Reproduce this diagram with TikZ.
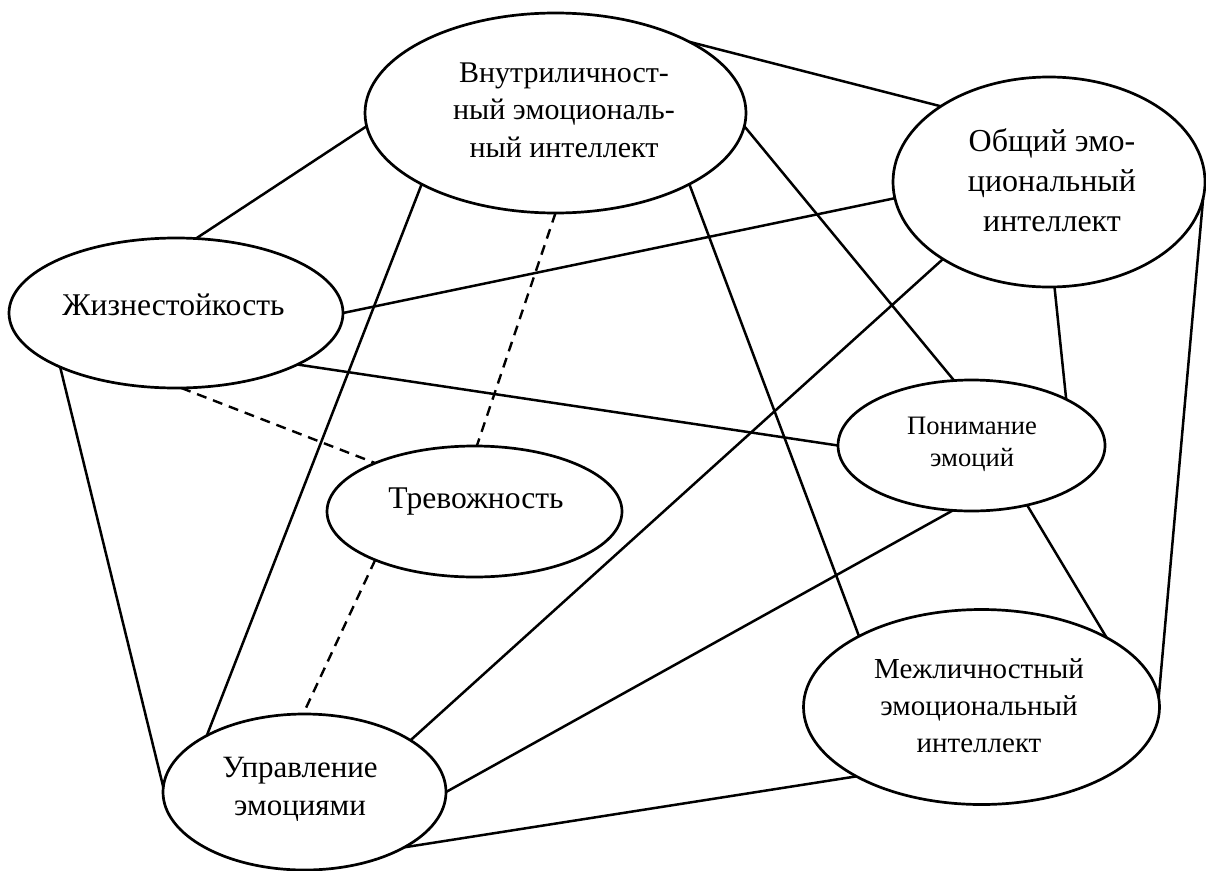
\documentclass[tikz,border=0pt]{standalone}
\usepackage{fontspec}
\setmainfont{Liberation Serif}
\usetikzlibrary{shapes.geometric}
\begin{document}
\begin{tikzpicture}[x=1pt,y=-1pt,
  ell/.style={draw, ellipse, line width=2.7pt, inner sep=0pt, outer sep=0pt},
  lbl/.style={align=center, inner sep=0pt},
  link/.style={line width=2.5pt},
  dlink/.style={line width=2.4pt, dash pattern=on 10pt off 7pt}]
\useasboundingbox[fill=white] (0,0) rectangle (1206,870);
% ellipses
\node[ell, minimum width=381pt, minimum height=200pt] (vn) at (555.5,113) {};
\node[ell, minimum width=312pt, minimum height=210pt] (ob) at (1049,182) {};
\node[ell, minimum width=334pt, minimum height=150pt] (zh) at (176,313) {};
\node[ell, minimum width=267pt, minimum height=131pt] (po) at (971.5,445.5) {};
\node[ell, minimum width=295pt, minimum height=131pt] (tr) at (474.5,511.5) {};
\node[ell, minimum width=356pt, minimum height=195pt] (me) at (981.5,707) {};
\node[ell, minimum width=283pt, minimum height=156pt] (up) at (304.5,792) {};
% labels
\node[lbl, font=\fontsize{30}{37.5}\selectfont] (vnT) at (564,110) {Внутриличност-\\ный эмоциональ-\\ный интеллект};
\node[lbl, font=\fontsize{32}{40}\selectfont] (obT) at (1052,180) {Общий эмо-\\циональный\\интеллект};
\node[lbl, font=\fontsize{31.6}{38}\selectfont] (zhT) at (173.5,305) {Жизнестойкость};
\node[lbl, font=\fontsize{26.6}{32}\selectfont] (poT) at (972,444) {Понимание\\эмоций};
\node[lbl, font=\fontsize{31.6}{38}\selectfont] (trT) at (476,502) {Тревожность};
\node[lbl, font=\fontsize{29}{37}\selectfont] (meT) at (979,706) {Межличностный\\эмоциональный\\интеллект};
\node[lbl, font=\fontsize{31}{38}\selectfont] (upT) at (300,789) {Управление\\эмоциями};
% solid connectors
\draw[link] (zh.75.96) -- (vn.184.5);
\draw[link] (vn.28.05) -- (ob.145.83);
\draw[link] (zh.0) -- (ob.186.58);
\draw[link] (vn.-4.49) -- (po.105.77);
\draw[link] (vn.-28.37) -- (me.150.77);
\draw[link] (vn.208.9) -- (up.150.68);
\draw[link] (zh.205.18) -- (up.178.4);
\draw[link] (zh.-23.87) -- (po.180.6);
\draw[link] (ob.-87.8) -- (po.26.44);
\draw[link] (ob.216.28) -- (up.26.88);
\draw[link] (ob.-6.67) -- (me.3.4);
\draw[link] (po.-47.24) -- (me.29.42);
\draw[link] (po.254.23) -- (up.-0.4);
\draw[link] (me.209.23) -- (up.-29.26);
% dashed connectors
\draw[dlink] (vn.-90) -- (tr.88);
\draw[dlink] (zh.-86.2) -- (tr.154.68);
\draw[dlink] (tr.206.02) -- (up.91.1);
\end{tikzpicture}
\end{document}
